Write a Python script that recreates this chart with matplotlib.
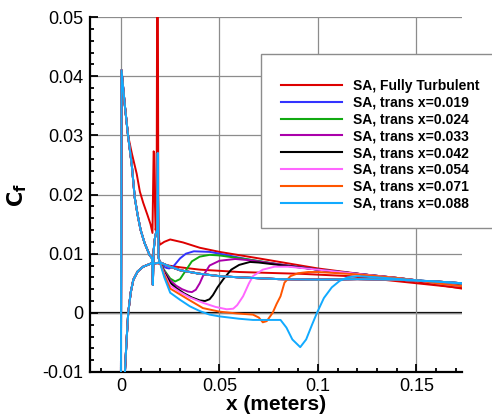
import matplotlib
matplotlib.use("Agg")
import matplotlib.pyplot as plt
from matplotlib.patches import Rectangle
from matplotlib.ticker import MultipleLocator

plt.rcParams['font.family'] = ['Liberation Sans', 'DejaVu Sans']

labels = ["SA, Fully Turbulent", "SA, trans x=0.019", "SA, trans x=0.024",
          "SA, trans x=0.033", "SA, trans x=0.042", "SA, trans x=0.054",
          "SA, trans x=0.071", "SA, trans x=0.088"]
colors = ["#dd0000", "#3333ff", "#11aa11", "#aa00aa", "#000000",
          "#ff66ff", "#ff5500", "#11aaff"]

# shared leading-edge / trip region for the transitional cases (upper surface)
x_lam = [0.0, 0.0003, 0.002, 0.0036, 0.0055, 0.007, 0.0085, 0.010, 0.012, 0.0145,
         0.0158, 0.0162, 0.0166, 0.0172, 0.0178, 0.0184, 0.0187, 0.0190]
cf_lam = [-0.0115, 0.041, 0.035, 0.030, 0.025, 0.0195, 0.0165, 0.0140, 0.0118, 0.0098,
          0.0092, 0.0047, 0.0105, 0.0125, 0.0135, 0.0140, 0.0270, 0.0095]

# downstream upper-surface parts of each transitional case
x_blue = [0.0195, 0.021, 0.023, 0.0245, 0.027, 0.030, 0.033, 0.037, 0.045, 0.05, 0.065,
          0.08, 0.1, 0.12, 0.14, 0.15, 0.16, 0.173]
cf_blue = [0.0088, 0.0080, 0.0076, 0.0075, 0.0080, 0.0092, 0.0100, 0.0104, 0.0103, 0.0100,
           0.0090, 0.0082, 0.0073, 0.0066, 0.0059, 0.0055, 0.0051, 0.0046]
x_green = [0.0195, 0.022, 0.025, 0.0275, 0.030, 0.033, 0.036, 0.040, 0.045, 0.05, 0.065,
           0.08, 0.1, 0.12, 0.14, 0.15, 0.16, 0.173]
cf_green = [0.0088, 0.0072, 0.0058, 0.0053, 0.0057, 0.0072, 0.0087, 0.0095, 0.0098, 0.0097,
            0.0090, 0.0082, 0.0073, 0.0066, 0.0059, 0.0055, 0.0051, 0.0046]
x_purple = [0.0195, 0.022, 0.025, 0.028, 0.031, 0.034, 0.036, 0.038, 0.040, 0.0416, 0.045,
            0.05, 0.058, 0.065, 0.08, 0.1, 0.12, 0.14, 0.15, 0.16, 0.173]
cf_purple = [0.0088, 0.0070, 0.0055, 0.0046, 0.0040, 0.0036, 0.0035, 0.0039, 0.0050, 0.0062,
             0.0080, 0.0088, 0.0091, 0.0089, 0.0082, 0.0073, 0.0066, 0.0059, 0.0055, 0.0051, 0.0045]
x_black = [0.0195, 0.022, 0.025, 0.028, 0.032, 0.036, 0.040, 0.0427, 0.045, 0.0467, 0.049,
           0.052, 0.056, 0.060, 0.0655, 0.07, 0.08, 0.1, 0.12, 0.14, 0.15, 0.16, 0.173]
cf_black = [0.0088, 0.0068, 0.0051, 0.0042, 0.0033, 0.0026, 0.0021, 0.0020, 0.0023, 0.0030,
            0.0043, 0.0057, 0.0073, 0.0081, 0.0086, 0.0085, 0.0081, 0.0073, 0.0066, 0.0059,
            0.0055, 0.0050, 0.0045]
x_pink = [0.0195, 0.022, 0.025, 0.030, 0.035, 0.0416, 0.048, 0.0537, 0.057, 0.059, 0.062,
          0.065, 0.067, 0.072, 0.078, 0.085, 0.1, 0.12, 0.14, 0.15, 0.16, 0.173]
cf_pink = [0.0088, 0.0066, 0.0046, 0.0035, 0.0026, 0.0017, 0.0010, 0.0006, 0.0007, 0.0013,
           0.0028, 0.0050, 0.0062, 0.0073, 0.0078, 0.0078, 0.0073, 0.0066, 0.0059, 0.0055,
           0.0050, 0.0045]
x_orange = [0.0195, 0.022, 0.025, 0.030, 0.035, 0.0416, 0.05, 0.0587, 0.067, 0.070, 0.072,
            0.074, 0.077, 0.079, 0.081, 0.083, 0.086, 0.09, 0.095, 0.1, 0.12, 0.14, 0.15,
            0.16, 0.173]
cf_orange = [0.0088, 0.0064, 0.0041, 0.0031, 0.0021, 0.0008, 0.0002, -0.0001, -0.0003, -0.0008,
             -0.0016, -0.0014, 0.0000, 0.0015, 0.0028, 0.0051, 0.0062, 0.0067, 0.0069, 0.0069,
             0.0065, 0.0059, 0.0055, 0.0050, 0.0045]
x_cyan = [0.0195, 0.022, 0.025, 0.030, 0.035, 0.040, 0.045, 0.050, 0.06, 0.067, 0.081, 0.084,
          0.087, 0.091, 0.094, 0.097, 0.0995, 0.103, 0.107, 0.111, 0.115, 0.12, 0.13, 0.15,
          0.173]
cf_cyan = [0.0088, 0.0060, 0.0034, 0.0022, 0.0011, 0.0003, -0.0003, -0.0006, -0.0010, -0.0012,
           -0.0012, -0.0025, -0.0045, -0.0058, -0.0045, -0.0020, 0.0000, 0.0025, 0.0043,
           0.0054, 0.0060, 0.0062, 0.0060, 0.0055, 0.0050]

# fully turbulent upper surface
x_red = [0.0, 0.0003, 0.002, 0.0036, 0.0055, 0.008, 0.0096, 0.0113, 0.0135, 0.0150, 0.0160,
         0.0163, 0.0166, 0.0169, 0.0172, 0.0176, 0.0181, 0.0184, 0.0187, 0.0190, 0.0193,
         0.0197, 0.022, 0.025, 0.0315, 0.040, 0.05, 0.07, 0.1, 0.13, 0.15, 0.173]
cf_red = [-0.0115, 0.041, 0.035, 0.030, 0.027, 0.0235, 0.0205, 0.0186, 0.0165, 0.0150, 0.0135,
          0.0205, 0.0273, 0.0270, 0.0190, 0.0140, 0.0150, 0.060, 0.060, 0.0140, 0.0125,
          0.0115, 0.0120, 0.0124, 0.0119, 0.0110, 0.0103, 0.0092, 0.0075, 0.0062, 0.0053, 0.0041]

# lower surface
x_low = [0.0018, 0.0028, 0.0037, 0.005, 0.0063, 0.0085, 0.0113, 0.015, 0.018]
cf_low = [-0.0115, -0.005, 0.0, 0.0035, 0.0056, 0.0070, 0.0078, 0.0083, 0.0084]
x_low_red = [0.022, 0.03, 0.04, 0.06, 0.08, 0.091, 0.116, 0.13, 0.15, 0.173]
cf_low_red = [0.0081, 0.0077, 0.0073, 0.0069, 0.0067, 0.0066, 0.0062, 0.0057, 0.0050, 0.0042]
x_low_tr = [0.020, 0.025, 0.030, 0.040, 0.050, 0.060, 0.080, 0.100, 0.120, 0.140, 0.160, 0.173]
cf_low_tr = [0.0085, 0.0078, 0.0072, 0.0066, 0.0062, 0.0060, 0.0057, 0.0056, 0.0057, 0.0056,
             0.0053, 0.0050]

uppers_x = [x_red, x_lam + x_blue, x_lam + x_green, x_lam + x_purple, x_lam + x_black,
            x_lam + x_pink, x_lam + x_orange, x_lam + x_cyan]
uppers_cf = [cf_red, cf_lam + cf_blue, cf_lam + cf_green, cf_lam + cf_purple, cf_lam + cf_black,
             cf_lam + cf_pink, cf_lam + cf_orange, cf_lam + cf_cyan]

W, H = 492, 418
fig = plt.figure(figsize=(W / 100, H / 100), dpi=100)
ax = fig.add_axes([90 / W, 1 - 372 / H, (462 - 90) / W, (372 - 17) / H])

ax.grid(True, which='major', color='#8c8c8c', linewidth=0.9, zorder=0)
ax.axhline(0, color='black', linewidth=1.6, zorder=1)

lw = 1.4
for i in range(8):
    if i == 0:
        lx, lc = x_low + x_low_red, cf_low + cf_low_red
    else:
        lx, lc = x_low + x_low_tr, cf_low + cf_low_tr
    ax.plot(lx, lc, color=colors[i], linewidth=lw, zorder=2 + i)
    ax.plot(uppers_x[i], uppers_cf[i], color=colors[i], linewidth=lw, zorder=2 + i,
            label=labels[i])

ax.set_xlim(-0.0157, 0.1731)
ax.set_ylim(-0.01, 0.05)
ax.set_xticks([0, 0.05, 0.1, 0.15])
ax.set_xticklabels(["0", "0.05", "0.1", "0.15"])
ax.set_yticks([-0.01, 0, 0.01, 0.02, 0.03, 0.04, 0.05])
ax.set_yticklabels(["-0.01", "0", "0.01", "0.02", "0.03", "0.04", "0.05"])
ax.xaxis.set_minor_locator(MultipleLocator(0.01))
ax.yaxis.set_minor_locator(MultipleLocator(0.002))
ax.tick_params(which='both', direction='in', width=1.3, labelsize=13)
ax.tick_params(which='major', length=6)
ax.tick_params(which='minor', length=3)
ax.tick_params(axis='y', pad=5)
ax.tick_params(axis='x', pad=4)
for s in ['top', 'right']:
    ax.spines[s].set_visible(False)
for s in ['left', 'bottom']:
    ax.spines[s].set_linewidth(1.6)

ax.set_xlabel("x (meters)", fontsize=15, fontweight='bold', labelpad=0)
fig.text(17 / W, 1 - 195 / H, r"$\mathbf{C_f}$", rotation=90, fontsize=15,
         ha='center', va='center')

# legend box
rect = Rectangle((261 / W, 1 - 228 / H), (500 - 261) / W, (228 - 54) / H,
                 transform=fig.transFigure, facecolor='white', edgecolor='#8c8c8c',
                 linewidth=1.0, zorder=20)
fig.add_artist(rect)
leg = fig.legend(loc='upper left', bbox_to_anchor=(281 / W, 1 - 79 / H),
                 frameon=False, prop={'weight': 'bold', 'size': 10},
                 handlelength=4.4, handletextpad=0.75, labelspacing=0.2,
                 borderpad=0, borderaxespad=0)
leg.set_zorder(21)
for h in leg.get_lines():
    h.set_linewidth(1.5)

fig.savefig("out.png", dpi=100)
